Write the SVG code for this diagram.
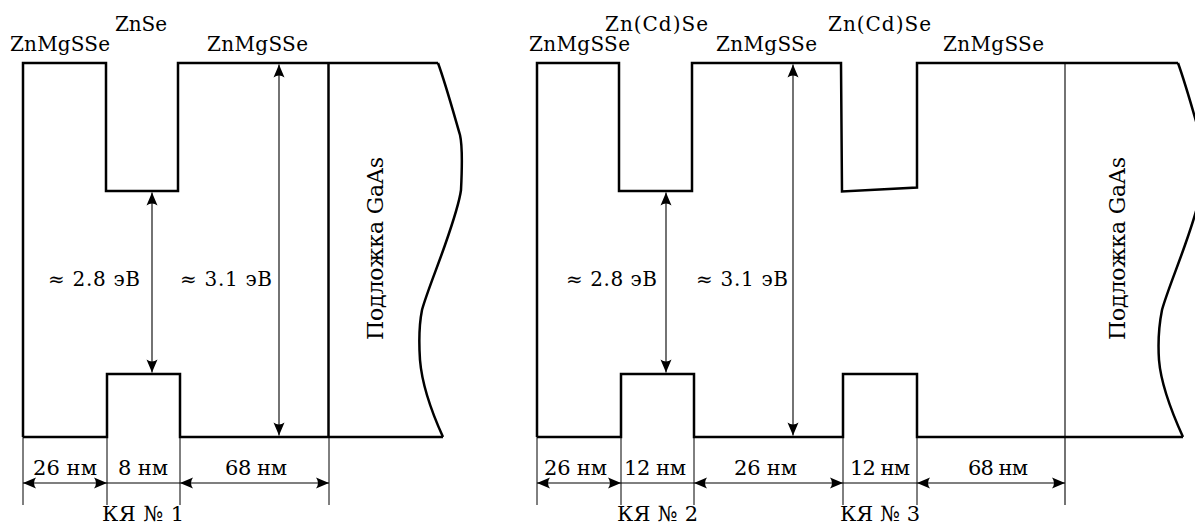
<svg xmlns="http://www.w3.org/2000/svg" width="1195" height="526" viewBox="0 0 1195 526">
<style>
  .thick { fill: none; stroke: #000; stroke-width: 2.5; stroke-linejoin: miter; }
  .thin { fill: none; stroke: #000; stroke-width: 1.1; }
  .dim { fill: none; stroke: #000; stroke-width: 1; }
  .arr { fill: none; stroke: #000; stroke-width: 1.1; marker-start: url(#ah); marker-end: url(#ah); }
  text { font-family: "DejaVu Serif", serif; fill: #000; }
</style>
<defs>
  <marker id="ah" viewBox="-14 -6 16 12" refX="0" refY="0" markerWidth="16" markerHeight="12" markerUnits="userSpaceOnUse" orient="auto-start-reverse">
    <path d="M0,0 L-13,-5.5 Q-9,0 -13,5.5 Z" fill="#000"/>
  </marker>
</defs>
<rect width="1195" height="526" fill="#fff"/>

<!-- Left panel -->
<g id="left-panel-band">
  <path class="thick" d="M23,437 L23,63 L106,63 L106,191 L178,191 L178,63 L438,63"/>
  <path class="thick" d="M23,437 L107,437 L107,374 L180,374 L180,437 L443,437"/>
  <path class="thick" d="M438,63 C446,85 455,118 460,135 C463,148 462,170 461,190 C459,205 452,225 445,245 C437,268 426,295 422,310 C419,325 419,345 420,360 C422,385 433,415 443,437"/>
  <line class="thick" x1="328.5" y1="63" x2="328.5" y2="437"/>
</g>
<g id="left-labels">
  <text font-size="20" x="10" y="51" textLength="100">ZnMgSSe</text>
  <text font-size="20" x="115" y="31" textLength="52">ZnSe</text>
  <text font-size="20" x="207" y="51" textLength="101">ZnMgSSe</text>
  <text font-size="20" x="48" y="286" textLength="92">≈ 2.8 эВ</text>
  <text font-size="20" x="180" y="286" textLength="92">≈ 3.1 эВ</text>
  <text font-size="22" transform="translate(383,340) rotate(-90)" textLength="183">Подложка GaAs</text>
  <text font-size="21" x="33" y="475" textLength="64">26 нм</text>
  <text font-size="21" x="118" y="475" textLength="50">8 нм</text>
  <text font-size="21" x="225" y="475" textLength="62">68 нм</text>
  <text font-size="21" x="102" y="521" textLength="82">КЯ № 1</text>
</g>

<!-- Right panel -->
<g id="right-panel-band">
  <path class="thick" d="M537,437 L537,63 L619,63 L619,191 L692,191 L692,63 L841,63 L842,191.5 L917,187.5 L917,63 L1178,63"/>
  <path class="thick" d="M537,437 L621,437 L621,374 L694,374 L694,437 L843,437 L843,374 L917,374 L917,437 L1183,437"/>
  <path class="thick" d="M1178,63 C1186,85 1195,118 1200,135 C1203,148 1202,170 1201,190 C1199,205 1192,225 1185,245 C1177,268 1166,295 1162,310 C1159,325 1158,345 1159,360 C1161,385 1173,415 1183,437"/>
  <line class="thin" x1="1065" y1="63" x2="1065" y2="505"/>
</g>
<g id="right-labels">
  <text font-size="20" x="529" y="51" textLength="101">ZnMgSSe</text>
  <text font-size="20" x="605" y="31" textLength="103">Zn(Cd)Se</text>
  <text font-size="20" x="716" y="51" textLength="101">ZnMgSSe</text>
  <text font-size="20" x="828" y="31" textLength="103">Zn(Cd)Se</text>
  <text font-size="20" x="943" y="51" textLength="101">ZnMgSSe</text>
  <text font-size="20" x="566" y="286" textLength="91">≈ 2.8 эВ</text>
  <text font-size="20" x="696" y="286" textLength="92">≈ 3.1 эВ</text>
  <text font-size="22" transform="translate(1125,340) rotate(-90)" textLength="183">Подложка GaAs</text>
  <text font-size="21" x="544" y="475" textLength="63">26 нм</text>
  <text font-size="21" x="624" y="475" textLength="62">12 нм</text>
  <text font-size="21" x="734" y="475" textLength="63">26 нм</text>
  <text font-size="21" x="850" y="475" textLength="60">12 нм</text>
  <text font-size="21" x="968" y="475" textLength="60">68 нм</text>
  <text font-size="21" x="617" y="521" textLength="81">КЯ № 2</text>
  <text font-size="21" x="840" y="521" textLength="80">КЯ № 3</text>
</g>

<g id="connectors">
  <line class="arr" x1="152" y1="192.5" x2="152" y2="372.5"/>
  <line class="arr" x1="279" y1="64.5" x2="279" y2="435.5"/>
  <line class="arr" x1="666" y1="192.5" x2="666" y2="372.5"/>
  <line class="arr" x1="793" y1="64.5" x2="793" y2="435.5"/>
  <g class="dim">
    <line x1="23" y1="437" x2="23" y2="505"/>
    <line x1="107" y1="437" x2="107" y2="505"/>
    <line x1="180" y1="437" x2="180" y2="505"/>
    <line x1="329" y1="437" x2="329" y2="505"/>
    <line x1="537" y1="437" x2="537" y2="505"/>
    <line x1="621" y1="437" x2="621" y2="505"/>
    <line x1="694" y1="437" x2="694" y2="505"/>
    <line x1="843" y1="437" x2="843" y2="505"/>
    <line x1="917" y1="437" x2="917" y2="505"/>
    <line x1="107" y1="483" x2="180" y2="483"/>
    <line x1="621" y1="483" x2="694" y2="483"/>
    <line x1="843" y1="483" x2="917" y2="483"/>
  </g>
  <line class="arr" x1="23" y1="483" x2="107" y2="483"/>
  <line class="arr" x1="180" y1="483" x2="329" y2="483"/>
  <line class="arr" x1="537" y1="483" x2="621" y2="483"/>
  <line class="arr" x1="694" y1="483" x2="843" y2="483"/>
  <line class="arr" x1="917" y1="483" x2="1065" y2="483"/>
</g>
</svg>
